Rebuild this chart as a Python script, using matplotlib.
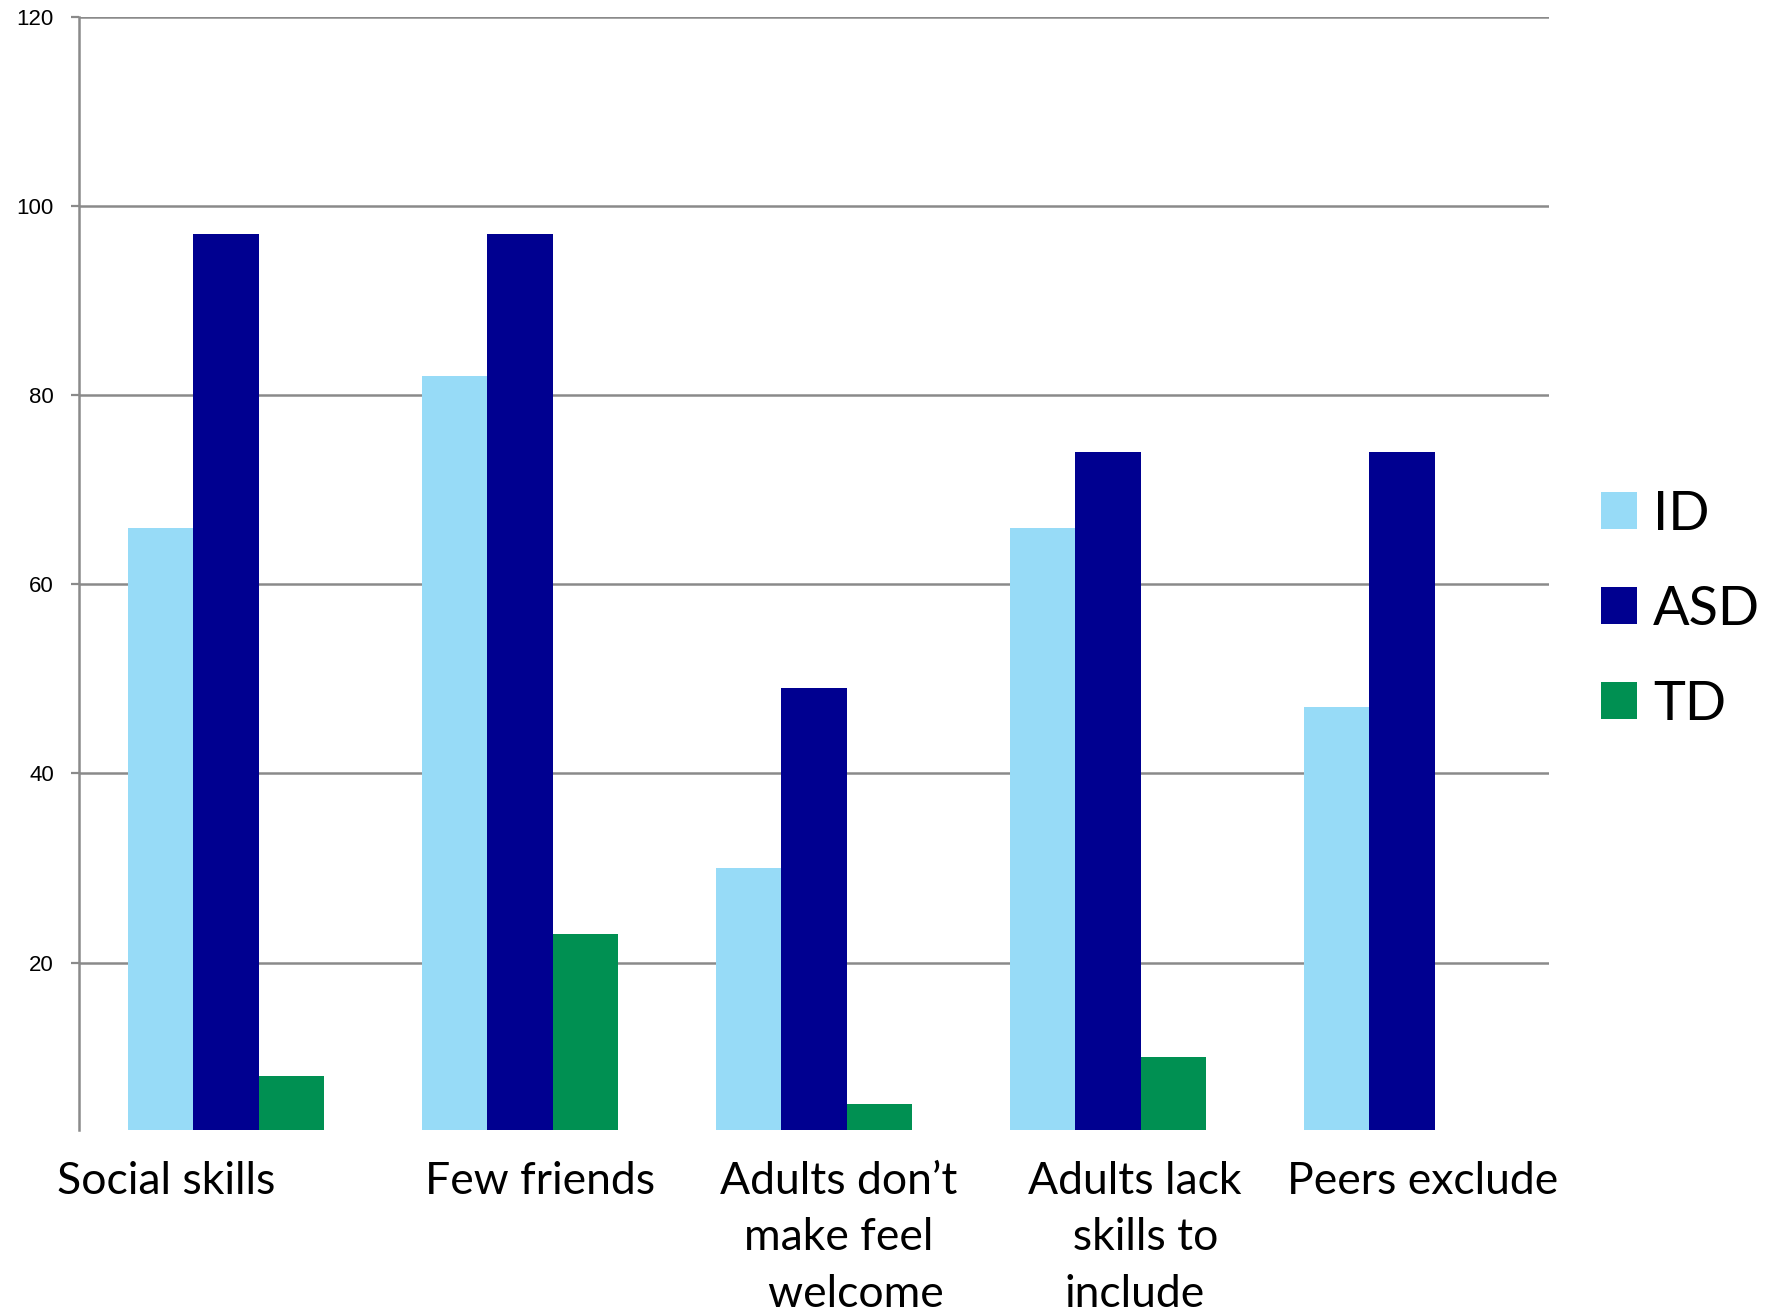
import matplotlib
matplotlib.use("Agg")
import matplotlib.pyplot as plt
import numpy as np

# Percentages of parents reporting each barrier to play, by group
categories = ["Social skills", "Few friends", "Adults don\u2019t\nmake feel\n   welcome",
              "Adults lack\n  skills to\ninclude", "Peers exclude"]
groups = ["ID", "ASD", "TD"]
id_values = [66, 82, 30, 66, 47]
asd_values = [97, 97, 49, 74, 74]
td_values = [8, 23, 5, 10, 0]
y_ticks = [20, 40, 60, 80, 100, 120]

colors = ["#97DBF7", "#000090", "#009052"]
label_shift = [-0.205, 0.068, 0.085, 0.09, 0.07]

plt.rcParams["font.family"] = ["Lato", "DejaVu Sans"]

fig = plt.figure(figsize=(17.68, 13.13), dpi=100)
ax = fig.add_axes([79 / 1768, 1 - 1130 / 1313, (1549 - 79) / 1768, (1130 - 17) / 1313])

x = np.arange(len(categories))
width = 0.222
series = [id_values, asd_values, td_values]
for i, (name, vals, col) in enumerate(zip(groups, series, colors)):
    ax.bar(x + (i - 1) * width, vals, width, color=col, label=name,
           zorder=3, linewidth=0)

ax.set_xlim(-0.5, len(categories) - 0.5)
ax.set_ylim(2.3, 120)
ax.set_yticks(y_ticks)
ax.set_yticklabels([str(v) for v in y_ticks], fontfamily="Liberation Sans", fontsize=16)
ax.yaxis.grid(True, color="#8a8a8a", linewidth=1.8, zorder=0)
ax.set_axisbelow(True)
ax.tick_params(axis="y", length=6, width=1.6, color="#8a8a8a", pad=12)

ax.set_xticks(x + np.array(label_shift))
ax.set_xticklabels(categories, fontsize=32)
for lab in ax.get_xticklabels():
    lab.set_linespacing(1.47)
ax.tick_params(axis="x", length=0, pad=22)

for side in ["top", "right", "bottom"]:
    ax.spines[side].set_visible(False)
ax.spines["left"].set_color("#8a8a8a")
ax.spines["left"].set_linewidth(1.8)

leg = fig.legend(loc="upper left", bbox_to_anchor=(1579 / 1768, 1 - 468 / 1313),
                 frameon=False, fontsize=39, handlelength=0.67, handleheight=0.67,
                 handletextpad=0.3, labelspacing=0.85, borderaxespad=0)

fig.savefig("out.png", dpi=100)
